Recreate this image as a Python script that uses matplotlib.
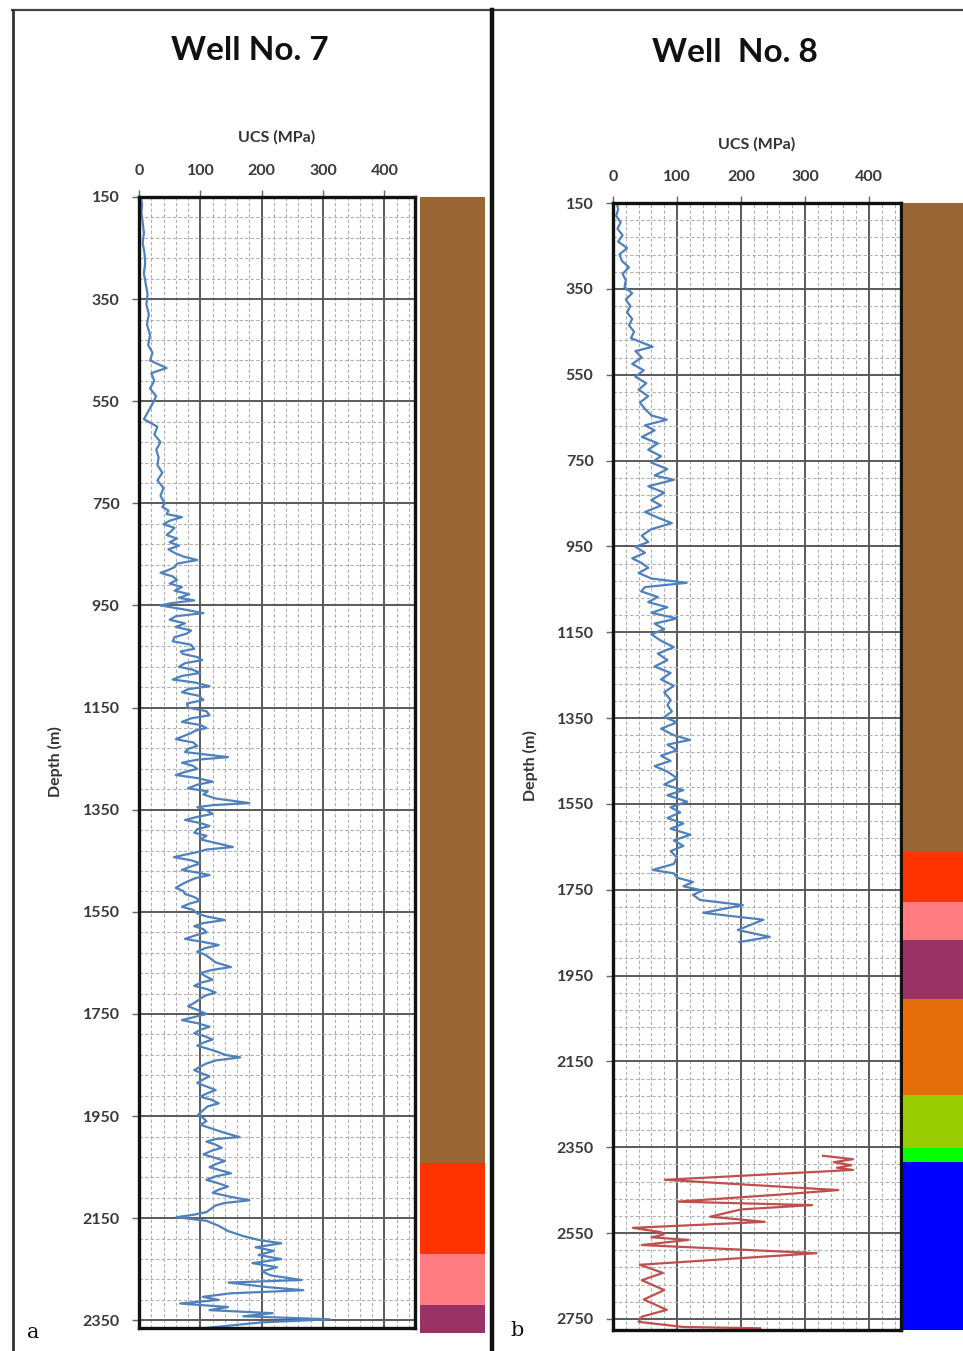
import numpy as np
import matplotlib
matplotlib.use("Agg")
import matplotlib.pyplot as plt
from matplotlib.ticker import FixedLocator, MultipleLocator
from matplotlib.lines import Line2D

plt.rcParams['font.family'] = ['Lato', 'DejaVu Sans']

# ---------------- data ----------------
well7_depth = [150, 165, 180, 200, 220, 240, 260, 280, 300, 320, 340, 360, 380, 400, 420, 440, 455, 470, 485,
               495, 510, 525, 540, 555, 570, 585, 600, 615, 630, 645, 660, 675, 690, 705, 720, 735,
               750, 757, 764, 771, 777, 784, 791, 798, 805, 812, 819, 826, 833, 840, 847, 854, 861, 868, 875,
               882, 886, 893, 900, 907, 914, 921, 928, 935, 940, 945, 950, 957, 965, 971, 978, 985, 992, 999,
               1005, 1012, 1020, 1027, 1035, 1040, 1045, 1051, 1057, 1063, 1070, 1076, 1082, 1088, 1095, 1101,
               1108, 1114, 1120, 1127, 1135, 1142, 1150, 1157, 1165, 1171, 1178, 1184, 1190, 1195, 1200, 1206,
               1212, 1218, 1225, 1231, 1237, 1242, 1247, 1252, 1258, 1264, 1270, 1276, 1282, 1288, 1295, 1301,
               1308, 1314, 1320, 1328, 1337, 1341, 1345, 1351, 1358, 1364, 1370, 1376, 1382, 1388, 1395, 1401,
               1408, 1415, 1423, 1428, 1433, 1438, 1443, 1449, 1455, 1461, 1468, 1473, 1478, 1484, 1490, 1496,
               1503, 1509, 1515, 1521, 1528, 1534, 1540, 1546, 1553, 1559, 1566, 1572, 1578, 1584, 1590, 1596,
               1603, 1609, 1615, 1621, 1628, 1634, 1640, 1649, 1658, 1664, 1670, 1677, 1683, 1689, 1695, 1701,
               1708, 1714, 1720, 1727, 1735, 1742, 1750, 1756, 1762, 1768, 1775, 1781, 1788, 1794, 1800, 1806,
               1812, 1818, 1825, 1830, 1835, 1841, 1847, 1853, 1860, 1866, 1872, 1878, 1885, 1892, 1899, 1905,
               1912, 1918, 1925, 1931, 1938, 1943, 1948, 1954, 1960, 1967, 1975, 1983, 1991, 1995, 2000, 2006,
               2012, 2018, 2025, 2031, 2038, 2044, 2050, 2056, 2062, 2068, 2075, 2081, 2088, 2094, 2100, 2107,
               2115, 2120, 2125, 2131, 2138, 2143, 2148, 2155, 2165, 2175, 2185, 2193, 2199,
               2207, 2214, 2222, 2230, 2238, 2246, 2254, 2262, 2271, 2276, 2285, 2291, 2297, 2304, 2310, 2317,
               2324, 2330, 2336, 2342, 2348, 2354, 2360, 2366]
well7_ucs = [3, 5, 4, 6, 8, 6, 9, 10, 8, 11, 14, 12, 16, 13, 18, 15, 22, 18, 45,
             20, 25, 18, 28, 22, 15, 8, 30, 25, 35, 28, 32, 30, 38, 30, 40, 35,
             42, 38, 48, 45, 70, 50, 40, 58, 52, 45, 62, 50, 65, 48, 58, 72, 95, 62, 58,
             45, 35, 55, 62, 50, 70, 58, 82, 65, 90, 55, 35, 70, 105, 60, 50, 75, 60, 85,
             78, 58, 55, 85, 90, 68, 72, 95, 103, 75, 65, 88, 100, 70, 55, 92,
             115, 80, 70, 98, 105, 78, 80, 110, 115, 85, 70, 100, 110, 92, 85, 72,
             60, 88, 95, 80, 75, 110, 145, 95, 70, 88, 95, 75, 60, 95, 120, 95,
             80, 112, 105, 125, 180, 120, 95, 110, 120, 95, 75, 100, 115, 95, 90, 110,
             100, 125, 153, 110, 95, 75, 57, 85, 100, 85, 70, 95, 115, 92, 80, 70,
             60, 72, 75, 90, 100, 82, 70, 88, 95, 110, 140, 105, 90, 105, 110, 92,
             75, 105, 130, 108, 95, 108, 115, 125, 150, 118, 100, 110, 120, 100, 90, 110,
             125, 108, 100, 92, 80, 95, 110, 90, 70, 95, 115, 100, 90, 108, 120, 105,
             95, 112, 130, 140, 165, 125, 110, 100, 90, 102, 115, 105, 95, 110, 125, 112,
             100, 118, 130, 112, 105, 100, 96, 105, 110, 100, 120, 140, 164, 125, 110, 125,
             135, 118, 105, 122, 140, 125, 115, 132, 150, 125, 110, 128, 145, 130, 120, 145,
             180, 140, 125, 118, 110, 90, 61, 110, 130, 145, 170, 197, 232,
             190, 220, 195, 232, 185, 225, 200, 215, 265, 146, 210, 268, 150, 104, 130, 67,
             145, 115, 218, 170, 311, 200, 150, 100]

well8_depth = [150, 165, 180, 195, 210, 225, 240, 255, 270, 285, 300, 315, 330, 346, 360, 375, 390, 405, 420,
               435, 450, 465, 485, 495, 510, 525, 540, 555, 570, 585, 600, 615, 630, 645, 655, 668, 680, 695,
               710, 725, 740, 755, 770, 785, 795, 810, 825, 842, 855, 870, 883, 896, 910, 925, 940, 951, 965,
               978, 989, 1000, 1012, 1025, 1035, 1045, 1055, 1068, 1080, 1092, 1105, 1118, 1130, 1143, 1155,
               1170, 1185, 1200, 1215, 1230, 1245, 1260, 1275, 1290, 1308, 1320, 1335, 1348, 1360, 1375, 1390,
               1401, 1412, 1425, 1438, 1450, 1462, 1475, 1490, 1505, 1518, 1530, 1545, 1558, 1570, 1583, 1596,
               1608, 1622, 1635, 1648, 1660, 1675, 1690, 1704, 1712, 1722, 1732, 1742, 1752, 1762, 1774, 1786,
               1804, 1820, 1844, 1860, 1872]
well8_ucs = [6, 8, 5, 12, 7, 15, 8, 22, 10, 14, 25, 15, 20, 18, 30, 20, 27, 22, 30,
             25, 33, 28, 62, 35, 45, 30, 48, 35, 52, 40, 55, 42, 50, 60, 84, 50, 65, 45,
             70, 55, 75, 60, 85, 65, 95, 55, 80, 60, 75, 50, 70, 92, 60, 45, 55, 35, 50,
             30, 45, 55, 40, 60, 115, 50, 44, 70, 55, 85, 60, 100, 65, 80, 60,
             75, 95, 70, 85, 65, 90, 75, 95, 80, 90, 85, 92, 80, 100, 75, 95,
             120, 85, 100, 75, 90, 65, 85, 100, 80, 110, 85, 116, 90, 105, 85, 110,
             90, 121, 95, 110, 90, 100, 95, 62, 95, 100, 125, 110, 140, 125, 136, 203,
             141, 235, 195, 245, 198]

well8b_depth = [2370, 2378, 2385, 2392, 2398, 2403, 2426, 2450, 2460, 2477, 2485, 2495, 2512, 2524, 2538,
                2548, 2554, 2560, 2566, 2578, 2597, 2624, 2643, 2660, 2683, 2705, 2729, 2745, 2757, 2769, 2772]
well8b_ucs = [328, 375, 345, 372, 350, 375, 81, 352, 265, 100, 311, 200, 152, 237, 31,
              75, 78, 60, 118, 45, 318, 42, 78, 45, 80, 48, 84, 45, 40, 110, 230]

# lithology columns (top, bottom, colour)
lith7_top = [150, 2042, 2220, 2320]
lith7_bot = [2042, 2220, 2320, 2375]
lith7_col = ['#996633', '#FF3300', '#FF7C80', '#993366']

lith8_top = [150, 1662, 1779, 1867, 2005, 2228, 2352, 2384]
lith8_bot = [1662, 1779, 1867, 2005, 2228, 2352, 2384, 2776]
lith8_col = ['#996633', '#FF3300', '#FF7C80', '#993366', '#E46C0A', '#99CC00', '#00FF00', '#0000FF']

x_ticks = [0, 100, 200, 300, 400]
y_ticks7 = list(range(150, 2351, 200))
y_ticks8 = list(range(150, 2751, 200))

# ---------------- figure ----------------
W, H = 963, 1351
fig = plt.figure(figsize=(W / 100, H / 100), dpi=100)
fig.patch.set_facecolor('white')


def fx(px):
    return px / W


def fy(py):
    return 1 - py / H


def make_axes(left, right, top, bottom, ymax, yticks):
    ax = fig.add_axes([fx(left), fy(bottom), fx(right - left), (bottom - top) / H])
    ax.set_xlim(0, 450)
    ax.set_ylim(ymax, 150)
    ax.xaxis.tick_top()
    ax.set_xticks(x_ticks, [str(v) for v in x_ticks], fontweight='bold')
    ax.set_yticks(yticks, [str(v) for v in yticks], fontweight='bold')
    ax.xaxis.set_minor_locator(MultipleLocator(20))
    ax.yaxis.set_minor_locator(FixedLocator(np.arange(150, ymax, 40)))
    ax.grid(which='minor', color='#b0b0b0', lw=0.8, ls=(0, (3, 2)))
    ax.grid(which='major', color='#5a5a5a', lw=1.4)
    ax.set_axisbelow(True)
    ax.tick_params(which='minor', length=0)
    ax.tick_params(which='major', length=5, width=1.0, color='#666666',
                   labelsize=11.5, labelcolor='#3a3a3a', pad=9)
    for s in ax.spines.values():
        s.set_linewidth(2.4)
        s.set_color('#111111')
    return ax


ax7 = make_axes(139, 415, 197, 1328, 2365, y_ticks7)
ax7.plot(well7_ucs, well7_depth, color='#4F81BD', lw=1.6)

ax8 = make_axes(613, 901, 203, 1330, 2776, y_ticks8)
ax8.plot(well8_ucs, well8_depth, color='#4F81BD', lw=1.6)
ax8.plot(well8b_ucs, well8b_depth, color='#C0504D', lw=1.6)


def lith_axes(left, right, top, bottom, ymax, tops, bots, cols):
    ax = fig.add_axes([fx(left), fy(bottom), fx(right - left), (bottom - top) / H])
    ax.set_xlim(0, 1)
    ax.set_ylim(ymax, 150)
    ax.bar([0.5] * len(tops), np.array(bots) - np.array(tops), bottom=tops, width=1.0,
           color=cols, edgecolor='none')
    ax.axis('off')
    return ax


lith_axes(420, 485, 197, 1333, 2375, lith7_top, lith7_bot, lith7_col)
lith_axes(903, 963, 203, 1330, 2776, lith8_top, lith8_bot, lith8_col)

# texts
fig.text(fx(250), fy(51), 'Well No. 7', ha='center', va='center', fontsize=24, fontweight='bold', color='#111111')
fig.text(fx(735), fy(53), 'Well  No. 8', ha='center', va='center', fontsize=24, fontweight='bold', color='#111111')
fig.text(fx(277), fy(137), 'UCS (MPa)', ha='center', va='center', fontsize=11.5, fontweight='bold', color='#333333')
fig.text(fx(757), fy(144), 'UCS (MPa)', ha='center', va='center', fontsize=11.5, fontweight='bold', color='#333333')
fig.text(fx(55), fy(762), 'Depth (m)', ha='center', va='center', rotation=90, fontsize=11.5,
         fontweight='bold', color='#333333')
fig.text(fx(530), fy(766), 'Depth (m)', ha='center', va='center', rotation=90, fontsize=11.5,
         fontweight='bold', color='#333333')
fig.text(fx(33), fy(1333), 'a', ha='center', va='center', fontsize=15, family='DejaVu Serif', color='#111111')
fig.text(fx(517), fy(1331), 'b', ha='center', va='center', fontsize=15, family='DejaVu Serif', color='#111111')

# panel frames
fig.add_artist(Line2D([fx(12), fx(963)], [fy(10), fy(10)], color='#444444', lw=1.6))
fig.add_artist(Line2D([fx(13), fx(13)], [fy(10), fy(1351)], color='#333333', lw=2.0))
fig.add_artist(Line2D([fx(492), fx(492)], [fy(10), fy(1351)], color='#111111', lw=3.2))

fig.savefig('out.png', dpi=100, facecolor='white')
